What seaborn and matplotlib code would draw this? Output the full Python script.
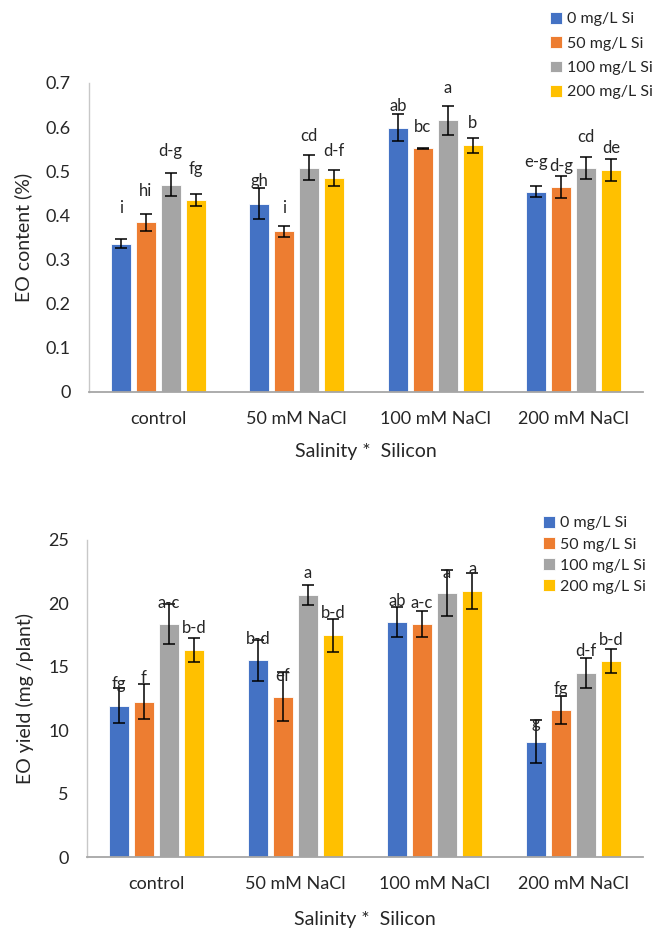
import matplotlib
matplotlib.use("Agg")
import matplotlib.pyplot as plt
import seaborn as sns
import pandas as pd

# Salinity treatments and silicon doses
salinity = ["control", "50 mM NaCl", "100 mM NaCl", "200 mM NaCl"]
silicon = ["0 mg/L Si", "50 mg/L Si", "100 mg/L Si", "200 mg/L Si"]

# Essential-oil content (%) — means, standard errors, Duncan letters
content_si0 = [0.336, 0.427, 0.599, 0.454]
content_si50 = [0.384, 0.364, 0.552, 0.465]
content_si100 = [0.469, 0.508, 0.616, 0.508]
content_si200 = [0.435, 0.484, 0.559, 0.502]
content_err_si0 = [0.010, 0.035, 0.031, 0.012]
content_err_si50 = [0.019, 0.013, 0.001, 0.025]
content_err_si100 = [0.026, 0.028, 0.033, 0.025]
content_err_si200 = [0.013, 0.018, 0.017, 0.025]
content_letters_si0 = ["i", "gh", "ab", "e-g"]
content_letters_si50 = ["hi", "i", "bc", "d-g"]
content_letters_si100 = ["d-g", "cd", "a", "cd"]
content_letters_si200 = ["fg", "d-f", "b", "de"]
content_letter_y_si0 = [0.416, 0.477, 0.647, 0.522]
content_letter_y_si50 = [0.455, 0.416, 0.601, 0.512]
content_letter_y_si100 = [0.545, 0.580, 0.688, 0.578]
content_letter_y_si200 = [0.505, 0.547, 0.609, 0.552]

# Essential-oil yield (mg/plant) — means, standard errors, Duncan letters
yield_si0 = [11.92, 15.50, 18.52, 9.08]
yield_si50 = [12.26, 12.63, 18.37, 11.60]
yield_si100 = [18.34, 20.65, 20.79, 14.53]
yield_si200 = [16.31, 17.50, 20.97, 15.45]
yield_err_si0 = [1.38, 1.60, 1.17, 1.70]
yield_err_si50 = [1.40, 1.93, 1.04, 1.08]
yield_err_si100 = [1.58, 0.80, 1.82, 1.18]
yield_err_si200 = [0.97, 1.30, 1.45, 0.96]
yield_letters_si0 = ["fg", "b-d", "ab", "g"]
yield_letters_si50 = ["f", "ef", "a-c", "fg"]
yield_letters_si100 = ["a-c", "a", "a", "d-f"]
yield_letters_si200 = ["b-d", "b-d", "a", "b-d"]
yield_letter_y_si0 = [13.63, 17.18, 20.20, 10.53]
yield_letter_y_si50 = [14.08, 14.29, 20.05, 13.24]
yield_letter_y_si100 = [20.05, 22.37, 22.42, 16.24]
yield_letter_y_si200 = [18.03, 19.26, 22.68, 17.10]

palette = ["#4472C4", "#ED7D31", "#A5A5A5", "#FFC000"]
text_color = "#262626"

sns.set_theme(style="white")
plt.rcParams["font.family"] = ["Lato", "DejaVu Sans"]


def long_table(means, errs):
    rows = []
    for dose, m_list, e_list in zip(silicon, means, errs):
        for sal, m, e in zip(salinity, m_list, e_list):
            rows.append({"Salinity": sal, "Silicon": dose, "mean": m, "err": e})
    return pd.DataFrame(rows)


def draw_panel(ax, means, errs, letters, letter_y, ylim, yticks, ylabel,
               legend_anchor, legend_spacing, xlabel_pad):
    df = long_table(means, errs)
    sns.barplot(data=df, x="Salinity", y="mean", hue="Silicon",
                order=salinity, hue_order=silicon, palette=palette,
                errorbar=None, width=0.722, gap=0.2, saturation=1,
                edgecolor="white", linewidth=0.6, ax=ax)
    for container, e_list, l_list, ly_list in zip(ax.containers, errs, letters, letter_y):
        for bar, e, lab, ly in zip(container, e_list, l_list, ly_list):
            xc = bar.get_x() + bar.get_width() / 2
            h = bar.get_height()
            ax.errorbar(xc, h, yerr=e, fmt="none", ecolor="black",
                        elinewidth=1.1, capsize=4.2, capthick=1.1, zorder=5)
            ax.text(xc, ly, lab, ha="center", va="center", fontsize=12,
                    color=text_color, zorder=6)
    ax.set_xlim(-0.5, 3.5)
    ax.set_ylim(*ylim)
    ax.set_yticks(yticks)
    ax.set_yticklabels([("%g" % t) for t in yticks])
    ax.set_xlabel("Salinity *  Silicon", fontsize=14, color=text_color,
                  labelpad=xlabel_pad)
    ax.set_ylabel(ylabel, fontsize=14, color=text_color, labelpad=10)
    ax.tick_params(axis="both", length=0, labelsize=13, colors=text_color)
    ax.tick_params(axis="y", pad=13)
    ax.tick_params(axis="x", pad=14)
    for side in ("top", "right"):
        ax.spines[side].set_visible(False)
    ax.spines["left"].set_color("#c8c8c8")
    ax.spines["left"].set_linewidth(1.0)
    ax.spines["bottom"].set_color("#a6a6a6")
    ax.spines["bottom"].set_linewidth(1.3)
    handles, labels = ax.get_legend_handles_labels()
    ax.legend(handles, labels, loc="upper left", bbox_to_anchor=legend_anchor,
              bbox_transform=ax.figure.transFigure, frameon=False,
              fontsize=11.5, handlelength=0.75, handleheight=0.75,
              handletextpad=0.3, labelspacing=legend_spacing, borderpad=0,
              labelcolor=text_color)


fig = plt.figure(figsize=(6.53, 9.33), dpi=100)
ax_top = fig.add_axes([89 / 653, (933 - 392) / 933, 554 / 653, 309 / 933])
ax_bot = fig.add_axes([87 / 653, (933 - 857) / 933, 556 / 653, 317 / 933])

draw_panel(ax_top,
           [content_si0, content_si50, content_si100, content_si200],
           [content_err_si0, content_err_si50, content_err_si100, content_err_si200],
           [content_letters_si0, content_letters_si50, content_letters_si100, content_letters_si200],
           [content_letter_y_si0, content_letter_y_si50, content_letter_y_si100, content_letter_y_si200],
           (0, 0.7), [0, 0.1, 0.2, 0.3, 0.4, 0.5, 0.6, 0.7], "EO content (%)",
           (542 / 653, 1 - 4 / 933), 0.62, 11)

draw_panel(ax_bot,
           [yield_si0, yield_si50, yield_si100, yield_si200],
           [yield_err_si0, yield_err_si50, yield_err_si100, yield_err_si200],
           [yield_letters_si0, yield_letters_si50, yield_letters_si100, yield_letters_si200],
           [yield_letter_y_si0, yield_letter_y_si50, yield_letter_y_si100, yield_letter_y_si200],
           (0, 25), [0, 5, 10, 15, 20, 25], "EO yield (mg /plant)",
           (535 / 653, 1 - 508 / 933), 0.42, 13)

fig.savefig("out.png", dpi=100, facecolor="white")
